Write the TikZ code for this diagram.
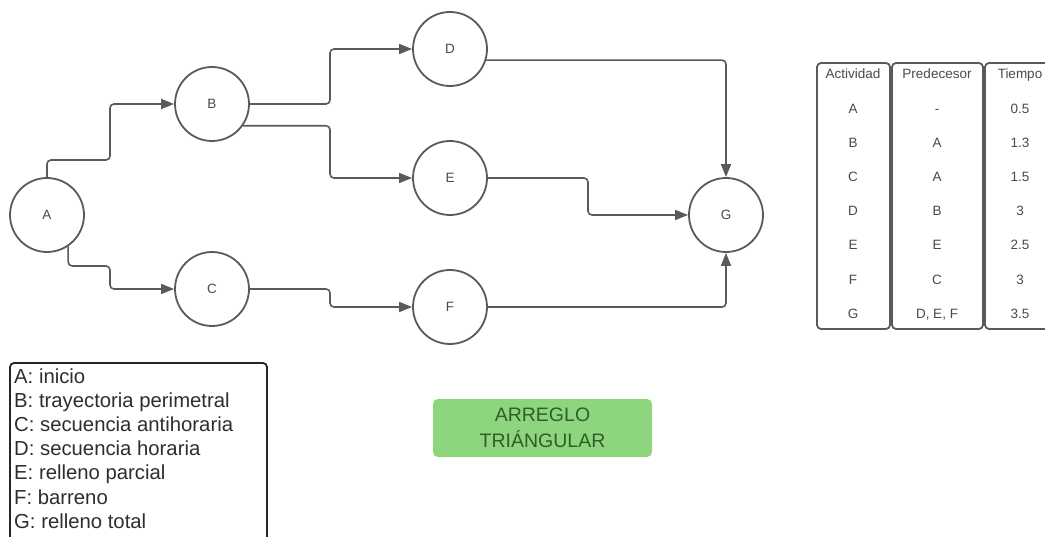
\documentclass[tikz,border=0pt]{standalone}
\usepackage{fontspec}
\setmainfont{Liberation Sans}
\usetikzlibrary{arrows.meta}
\definecolor{ln}{HTML}{5A5A5A}
\definecolor{txt}{HTML}{4A4A4A}
\definecolor{gfill}{HTML}{8ED67E}
\definecolor{gtxt}{HTML}{2F5E2A}
\tikzset{
  circ/.style={circle, draw=ln, line width=1.8pt, minimum size=74pt, inner sep=0pt, text=txt, font=\fontsize{13.5}{15}\selectfont},
  arr/.style={draw=ln, line width=1.6pt, rounded corners=4pt, -{Triangle[length=13pt,width=10pt]}},
  colbox/.style={draw=ln, line width=1.8pt, rounded corners=4pt},
  cell/.style={text=txt, font=\fontsize{13.5}{15}\selectfont, inner sep=0pt, text height=9.7pt, text depth=2.8pt},
  leg/.style={anchor=west, text=black!82, font=\fontsize{20.3}{22}\selectfont, inner sep=0pt, text height=14.6pt, text depth=4.2pt}
}
\begin{document}
\begin{tikzpicture}[x=1pt,y=-1pt]
\useasboundingbox (0,0) rectangle (1045,537);
\clip (0,0) rectangle (1045,537);
\fill[white] (0,0) rectangle (1045,537);
% nodes
\node[circ] (A) at (47,215) {A};
\node[circ] (B) at (212,104) {B};
\node[circ] (C) at (212,289) {C};
\node[circ] (D) at (450,49) {D};
\node[circ] (E) at (450,178) {E};
\node[circ] (F) at (450,307) {F};
\node[circ] (G) at (726,215) {G};
% connectors
\draw[arr] (A.north) |- (110,160) |- (B.west);
\draw[arr] (A.-56) |- (110,266) |- (C.west);
\draw[arr] (B.east) -| (330,49) -- (D.west);
\draw[arr] (B.-35) -| (330,178) -- (E.west);
\draw[arr] (C.east) -| (330,307) -- (F.west);
\draw[arr] (D.-17) -| (G.north);
\draw[arr] (E.east) -| (588,215) -- (G.west);
\draw[arr] (F.east) -| (G.south);
% table
\draw[colbox] (817,63) rectangle (890,329);
\draw[colbox] (892,63) rectangle (983,329);
\draw[colbox] (985,63) rectangle (1070,329);
\foreach \y/\a/\b/\c [count=\i] in {75/Actividad/Predecesor/Tiempo,110/A/-/0.5,144/B/A/1.3,178/C/A/1.5,212/D/B/3,246/E/E/2.5,281/F/C/3,315/G/{D, E, F}/3.5}{
  \node[cell] (ta\i) at (853,\y) {\a};
  \node[cell] (tb\i) at (937,\y) {\b};
  \node[cell] (tc\i) at (1020,\y) {\c};
}
% legend
\draw[draw=black!85, line width=1.8pt, rounded corners=4pt] (10,363) rectangle (267,560);
\node[leg] (l1) at (14,378) {A: inicio};
\node[leg] (l2) at (14,402) {B: trayectoria perimetral};
\node[leg] (l3) at (14,426) {C: secuencia antihoraria};
\node[leg] (l4) at (14,450) {D: secuencia horaria};
\node[leg] (l5) at (14,474) {E: relleno parcial};
\node[leg] (l6) at (14,499) {F: barreno};
\node[leg] (l7) at (14,523) {G: relleno total};
% green box
\node[fill=gfill, rounded corners=5pt, minimum width=219pt, minimum height=58pt, align=center, text=gtxt, font=\fontsize{19.5}{26}\selectfont, inner sep=0pt] (title) at (542.5,428) {ARREGLO\\TRIÁNGULAR};
\end{tikzpicture}
\end{document}
